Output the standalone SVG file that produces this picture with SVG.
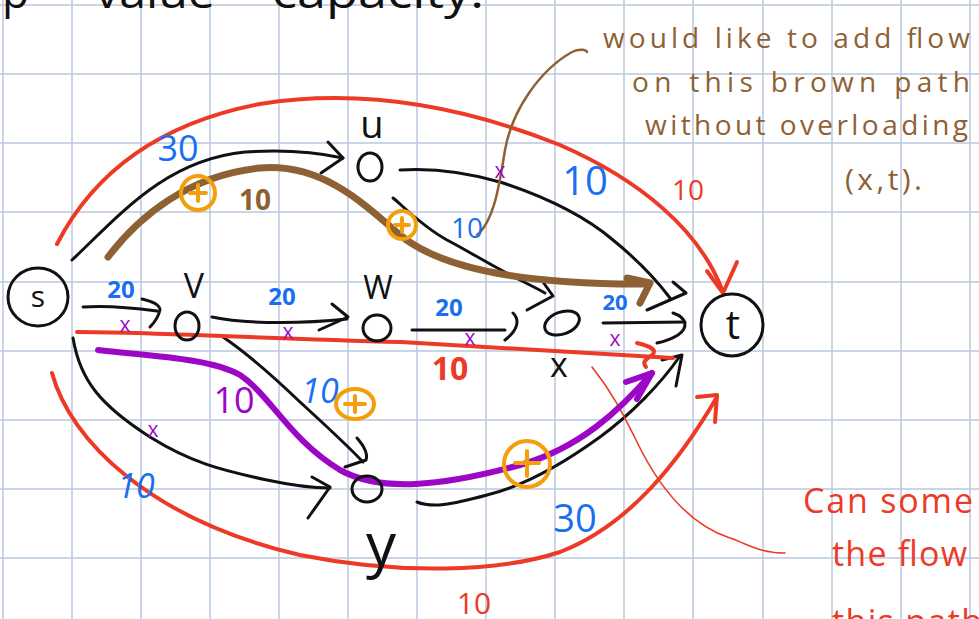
<svg xmlns="http://www.w3.org/2000/svg" width="979" height="619" viewBox="0 0 979 619">
<style>
.grid line{stroke:#b8c8df;stroke-width:1.5}
.k{fill:none;stroke:#111;stroke-width:3;stroke-linecap:round;stroke-linejoin:round}
.r{fill:none;stroke:#ec3a26;stroke-width:4;stroke-linecap:round;stroke-linejoin:round}
.rt{fill:none;stroke:#ec3a26;stroke-width:1.6;stroke-linecap:round}
.br{fill:none;stroke:#8e6134;stroke-width:7;stroke-linecap:round;stroke-linejoin:round}
.brt{fill:none;stroke:#8e6134;stroke-width:2.5;stroke-linecap:round}
.pu{fill:none;stroke:#9c07c6;stroke-width:6;stroke-linecap:round;stroke-linejoin:round}
.or{fill:none;stroke:#f59e0b;stroke-width:4;stroke-linecap:round}
text{font-family:"Open Sans","Liberation Sans",sans-serif}
.tb{fill:#111}
.bl{fill:#1a6ff0;text-anchor:middle}
.rd{fill:#ec3a26}
.bw{fill:#8e6134}
.pp{fill:#9c07c6}
.xm{fill:#9c07c6;font-size:21px;text-anchor:middle}
.nl{fill:#111;text-anchor:middle}
</style>
<rect width="979" height="619" fill="#ffffff"/>
<g class="grid">
<line x1="3" y1="0" x2="3" y2="619"/><line x1="72" y1="0" x2="72" y2="619"/><line x1="141" y1="0" x2="141" y2="619"/><line x1="210" y1="0" x2="210" y2="619"/><line x1="279" y1="0" x2="279" y2="619"/><line x1="348" y1="0" x2="348" y2="619"/><line x1="417" y1="0" x2="417" y2="619"/><line x1="486" y1="0" x2="486" y2="619"/><line x1="555" y1="0" x2="555" y2="619"/><line x1="624" y1="0" x2="624" y2="619"/><line x1="693" y1="0" x2="693" y2="619"/><line x1="763" y1="0" x2="763" y2="619"/><line x1="832" y1="0" x2="832" y2="619"/><line x1="901" y1="0" x2="901" y2="619"/><line x1="970" y1="0" x2="970" y2="619"/>
<line x1="0" y1="5" x2="979" y2="5"/><line x1="0" y1="74" x2="979" y2="74"/><line x1="0" y1="143" x2="979" y2="143"/><line x1="0" y1="212" x2="979" y2="212"/><line x1="0" y1="282" x2="979" y2="282"/><line x1="0" y1="351" x2="979" y2="351"/><line x1="0" y1="420" x2="979" y2="420"/><line x1="0" y1="489" x2="979" y2="489"/><line x1="0" y1="558" x2="979" y2="558"/>
</g>

<g id="title">
<text class="tb" x="2" y="8" font-size="44">p</text>
<text class="tb" x="95" y="8" font-size="44" textLength="120" lengthAdjust="spacingAndGlyphs">value</text>
<text class="tb" x="272" y="8" font-size="44" textLength="212" lengthAdjust="spacingAndGlyphs">capacity.</text>
</g>

<g id="connectors">
<!-- black edges -->
<path class="k" d="M72,260 C120,215 165,160 245,152 C290,149 320,153 343,158"/>
<path class="k" d="M328,142 L343,158 L321,173"/>
<path class="k" d="M83,307 C110,305 135,308 157,311"/>
<path class="k" d="M142,299 C155,302 160,306 160,310 C158,318 155,322 150,327"/>
<path class="k" d="M212,317 C250,325 310,323 347,319"/>
<path class="k" d="M332,304 L348,317 L319,330"/>
<path class="k" d="M412,330 L505,330"/>
<path class="k" d="M513,313 C520,320 518,330 505,340"/>
<path class="k" d="M603,323 L685,322"/>
<path class="k" d="M673,313 C688,318 688,328 678,335 C670,340 662,342 657,343"/>
<path class="k" d="M400,170 C430,168 465,172 500,182 C540,195 580,212 613,240 C640,262 658,282 670,298"/>
<path class="k" d="M673,282 L686,293 L647,310"/>
<path class="k" d="M393,198 C400,203 420,225 447,240 C470,252 490,265 520,280 C530,285 538,289 545,293"/>
<path class="k" d="M543,282 L553,296 L527,310"/>
<path class="k" d="M223,337 C245,352 275,378 300,402 C325,425 345,443 363,462"/>
<path class="k" d="M357,438 C364,446 368,454 366,460 L345,467"/>
<path class="k" d="M73,338 C80,380 100,405 150,437 C190,462 220,470 267,480 C295,486 315,488 330,488"/>
<path class="k" d="M312,477 L330,487 L308,518"/>
<path class="k" d="M417,502 C432,508 450,505 487,495 C520,487 560,466 600,437 C630,415 660,385 680,356"/>
<path class="k" d="M662,360 L682,355 L676,386"/>
<!-- red paths -->
<path class="r" d="M57,244 C90,180 150,125 260,104 C360,88 460,105 560,145 C640,180 700,230 723,292"/>
<path class="r" d="M707,271 L723,293 L737,262"/>
<path class="r" d="M77,332 C150,332 250,338 400,342 C500,347 600,354 673,358"/>
<path class="r" d="M637,343 C650,346 658,350 652,355 C645,360 642,362 646,367"/>
<path class="r" d="M52,373 C70,440 150,520 300,555 C400,575 500,572 560,552 C630,525 680,460 717,397"/>
<path class="r" d="M697,397 L717,395 L715,422"/>
<path class="rt" d="M592,367 C612,392 622,412 636,440 C660,490 690,525 730,538 C750,545 760,553 785,553"/>
<!-- brown -->
<path class="br" d="M108,257 C140,215 190,175 260,168 C320,163 360,200 400,235 C440,268 520,285 648,284"/>
<path class="br" d="M627,278 L650,283 L640,303"/>
<path class="brt" d="M477,235 C495,220 500,180 505,150 C512,110 540,70 572,52 C580,48 587,50 587,52"/>
<!-- purple -->
<path class="pu" d="M98,350 C150,356 210,358 240,375 C270,395 290,440 340,470 C380,492 440,487 520,465 C580,448 620,410 652,373"/>
<path class="pu" d="M626,382 L652,373 L637,399"/>
</g>

<g id="node-s">
<ellipse cx="38" cy="297" rx="30" ry="29" class="k"/>
<text class="nl" x="38" y="307" font-size="30">s</text>
</g>
<g id="node-t">
<circle cx="732" cy="325" r="31" class="k"/>
<text class="nl" x="733" y="339" font-size="40">t</text>
</g>
<g id="node-u">
<ellipse cx="370" cy="167" rx="12" ry="14" class="k"/>
<text class="nl" x="372" y="138" font-size="38">u</text>
</g>
<g id="node-v">
<ellipse cx="187" cy="326" rx="12" ry="14" class="k"/>
<text class="nl" x="194" y="298" font-size="34">V</text>
</g>
<g id="node-w">
<ellipse cx="377" cy="328" rx="14" ry="13" class="k"/>
<text class="nl" x="378" y="299" font-size="32">W</text>
</g>
<g id="node-x">
<ellipse cx="562" cy="323" rx="18" ry="11" transform="rotate(-20 562 323)" class="k"/>
<text class="nl" x="559" y="377" font-size="34">x</text>
</g>
<g id="node-y">
<ellipse cx="367" cy="489" rx="15" ry="13" class="k"/>
<text class="nl" x="381" y="566" font-size="60">y</text>
</g>

<g id="labels">
<text class="bl" x="178" y="161" font-size="36">30</text>
<text class="bl" x="121" y="298" font-size="24" font-weight="bold">20</text>
<text class="bl" x="282" y="305" font-size="24" font-weight="bold">20</text>
<text class="bl" x="449" y="316" font-size="24" font-weight="bold">20</text>
<text class="bl" x="615" y="310" font-size="22" font-weight="bold">20</text>
<text class="bl" x="585" y="195" font-size="40">10</text>
<text class="bl" x="467" y="238" font-size="28">10</text>
<text class="bl" x="320" y="403" font-size="34" font-style="italic">10</text>
<text class="bl" x="136" y="498" font-size="34" font-style="italic">10</text>
<text class="bl" x="575" y="532" font-size="38">30</text>
<text class="bw" x="255" y="210" font-size="28" font-weight="bold" text-anchor="middle">10</text>
<text class="pp" x="234" y="413" font-size="36" text-anchor="middle">10</text>
<text class="rd" x="688" y="200" font-size="28" text-anchor="middle">10</text>
<text class="rd" x="450" y="380" font-size="32" font-weight="bold" text-anchor="middle">10</text>
<text class="rd" x="474" y="614" font-size="30" text-anchor="middle">10</text>
<text class="xm" x="125" y="332">x</text>
<text class="xm" x="288" y="339">x</text>
<text class="xm" x="470" y="345">x</text>
<text class="xm" x="615" y="346">x</text>
<text class="xm" x="500" y="178" font-size="26">x</text>
<text class="xm" x="153" y="437">x</text>
</g>

<g id="plus-marks">
<circle cx="198" cy="193" r="17" class="or"/><path class="or" d="M190,193 L206,193 M198,185 L198,201"/>
<circle cx="402" cy="225" r="14" class="or"/><path class="or" d="M395,225 L409,225 M402,218 L402,232"/>
<ellipse cx="355" cy="404" rx="19" ry="15" class="or"/><path class="or" d="M345,404 L365,404 M355,396 L355,412"/>
<circle cx="527" cy="464" r="23" class="or"/><path class="or" d="M515,463 L539,463 M527,451 L527,476"/>
</g>

<g id="note-brown">
<text class="bw" x="603" y="48" font-size="28" textLength="367" lengthAdjust="spacing">would like to add flow</text>
<text class="bw" x="632" y="92" font-size="28" textLength="338" lengthAdjust="spacing">on this brown path</text>
<text class="bw" x="645" y="135" font-size="28" textLength="323" lengthAdjust="spacing">without overloading</text>
<text class="bw" x="845" y="190" font-size="30" textLength="77" lengthAdjust="spacing">(x,t).</text>
</g>

<g id="note-red">
<text class="rd" x="803" y="513" font-size="34" textLength="170" lengthAdjust="spacing">Can some</text>
<text class="rd" x="832" y="566" font-size="34" textLength="135" lengthAdjust="spacing">the flow</text>
<text class="rd" x="832" y="634" font-size="34" textLength="150" lengthAdjust="spacing">this path</text>
</g>
</svg>
